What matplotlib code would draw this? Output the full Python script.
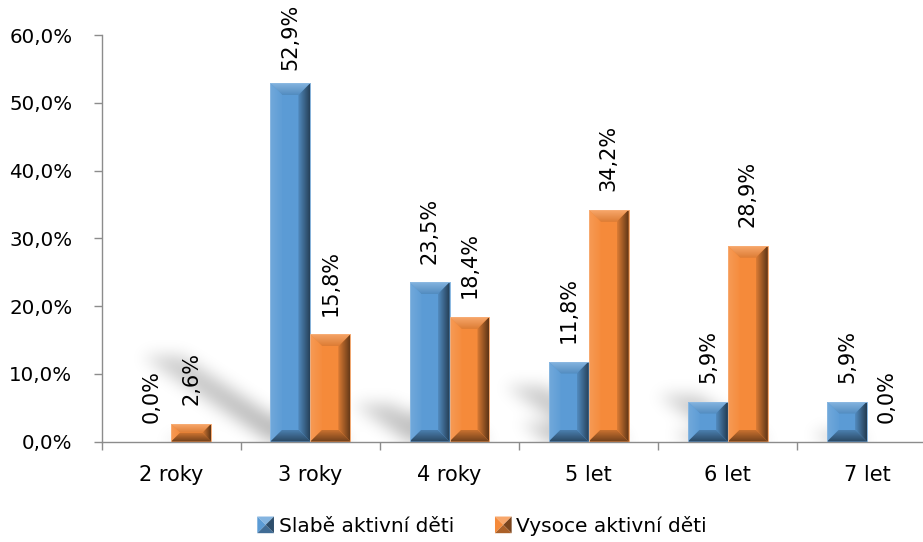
import numpy as np
import matplotlib
matplotlib.use("Agg")
import matplotlib.pyplot as plt
from matplotlib.patches import Polygon, Rectangle
from matplotlib.colors import LinearSegmentedColormap, to_rgb

plt.rcParams["font.family"] = ["DejaVu Sans"]

categories = ["2 roky", "3 roky", "4 roky", "5 let", "6 let", "7 let"]
slabe = [0.0, 52.9, 23.5, 11.8, 5.9, 5.9]
vysoce = [2.6, 15.8, 18.4, 34.2, 28.9, 0.0]
series_names = ["Slabě aktivní děti", "Vysoce aktivní děti"]
y_ticks = [0, 10, 20, 30, 40, 50, 60]

BLUE = "#5B9BD5"
ORANGE = "#F58A3A"
AXIS_GREY = "#8C8C8C"
BAR_W = 0.287

DPI = 100
fig = plt.figure(figsize=(9.23, 5.42), dpi=DPI)
ax = fig.add_axes([101.6 / 923, 1 - 441.5 / 542, 835 / 923, 406.5 / 542])
XLIM = (-0.5, len(categories) - 0.5)
YLIM = (0, 60)

# pixels per data unit, used to keep bevels a constant size on screen
px_x = 835 / (XLIM[1] - XLIM[0])
px_y = 406.5 / (YLIM[1] - YLIM[0])


def shade(color, amount):
    """amount > 0 mixes with white, amount < 0 with black."""
    c = np.array(to_rgb(color))
    if amount >= 0:
        return tuple(c + (1 - c) * amount)
    return tuple(c * (1 + amount))


def gradient_fill(ax, pts, c_from, c_to, direction, zorder):
    poly = Polygon(pts, closed=True, facecolor="none", edgecolor="none")
    ax.add_patch(poly)
    xs = [p[0] for p in pts]
    ys = [p[1] for p in pts]
    cmap = LinearSegmentedColormap.from_list("g", [c_from, c_to])
    if direction == "x":
        grad = np.linspace(0, 1, 64).reshape(1, -1)
    else:
        grad = np.linspace(0, 1, 64).reshape(-1, 1)
    im = ax.imshow(grad, cmap=cmap, extent=(min(xs), max(xs), min(ys), max(ys)),
                   origin="lower", aspect="auto", zorder=zorder, interpolation="bilinear")
    im.set_clip_path(poly)


def bevel_bar(ax, left, value, color):
    right = left + BAR_W
    if value <= 0:
        return
    b = min(12.0, 0.5 * value * px_y, 0.5 * BAR_W * px_x)
    bx, by = b / px_x, b / px_y
    ax.bar(left, value, width=BAR_W, align="edge", color=color,
           edgecolor=shade(color, 0.35), linewidth=0.6, zorder=2)
    z = 2.1
    top = [(left, value), (right, value), (right - bx, value - by), (left + bx, value - by)]
    bottom = [(left, 0), (right, 0), (right - bx, by), (left + bx, by)]
    lside = [(left, 0), (left, value), (left + bx, value - by), (left + bx, by)]
    rside = [(right, 0), (right, value), (right - bx, value - by), (right - bx, by)]
    # top chamfer: darker where it meets the face, bright at the edge
    gradient_fill(ax, top, shade(color, -0.1), shade(color, 0.25), "y", z)
    gradient_fill(ax, lside, shade(color, 0.14), shade(color, 0.02), "x", z)
    gradient_fill(ax, bottom, shade(color, -0.55), shade(color, -0.18), "y", z)
    gradient_fill(ax, rside, shade(color, -0.1), shade(color, -0.62), "x", z)
    ax.add_patch(Rectangle((left, 0), BAR_W, value, facecolor="none",
                           edgecolor=shade(color, 0.3), linewidth=0.6, zorder=2.2))


def gauss_blur(img, sigma):
    r = int(3 * sigma)
    k = np.exp(-0.5 * (np.arange(-r, r + 1) / sigma) ** 2)
    k /= k.sum()
    img = np.apply_along_axis(lambda m: np.convolve(m, k, mode="same"), 0, img)
    img = np.apply_along_axis(lambda m: np.convolve(m, k, mode="same"), 1, img)
    return img


# soft perspective shadows cast up and to the left of every bar
W, H = 835, 407
yy, xx = np.mgrid[0:H, 0:W] + 0.5
mask = np.zeros((H, W))
for offset, values in ((-BAR_W, slabe), (0.0, vysoce)):
    for i, v in enumerate(values):
        if v <= 0:
            continue
        x0 = (i + offset - XLIM[0]) * px_x
        x1 = x0 + BAR_W * px_x
        reach = 0.24 * v * px_y
        shift = yy * 1.5
        inside = (yy <= reach) & (xx >= x0 - shift) & (xx <= x1 - shift)
        fade = np.clip(1.0 - 0.35 * yy / max(reach, 1), 0, 1)
        mask = np.maximum(mask, inside * fade)
mask = gauss_blur(mask, 8)
shadow = np.zeros((H, W, 4))
shadow[..., 3] = 0.30 * mask
ax.imshow(shadow, extent=(XLIM[0], XLIM[1], 0, H / px_y), origin="lower",
          aspect="auto", zorder=0.5, interpolation="bilinear")

x = np.arange(len(categories))
for i in x:
    bevel_bar(ax, i - BAR_W, slabe[i], BLUE)
    bevel_bar(ax, i, vysoce[i], ORANGE)

labels = []
for offset, values in ((-BAR_W / 2, slabe), (BAR_W / 2, vysoce)):
    for i, v in enumerate(values):
        t = ax.annotate(f"{v:.1f}%".replace(".", ","), xy=(i + offset, v),
                        xytext=(0, 13.5), textcoords="offset points",
                        rotation=90, ha="center", va="bottom", fontsize=15,
                        color="#000000", zorder=5, annotation_clip=False)
        labels.append(t)

ax.set_xlim(*XLIM)
ax.set_ylim(*YLIM)
ax.set_yticks(y_ticks)
ax.set_yticklabels([f"{v:.1f}%".replace(".", ",") for v in y_ticks], fontsize=14.3)
ax.set_xticks(x)
ax.set_xticklabels(categories, fontsize=15)
ax.set_xticks(np.arange(len(categories) + 1) - 0.5, minor=True)
ax.tick_params(axis="x", which="major", length=0, pad=17)
ax.tick_params(axis="x", which="minor", length=6, color=AXIS_GREY, width=1)
ax.tick_params(axis="y", length=6, color=AXIS_GREY, width=1, pad=15)
for side in ("top", "right"):
    ax.spines[side].set_visible(False)
for side in ("left", "bottom"):
    ax.spines[side].set_color(AXIS_GREY)
    ax.spines[side].set_linewidth(1)
    ax.spines[side].set_zorder(3)


class BevelSquare:
    def __init__(self, color):
        self.color = color


class BevelHandler:
    def legend_artist(self, legend, orig_handle, fontsize, handlebox):
        c = orig_handle.color
        s = 12.0
        x0 = handlebox.xdescent + (handlebox.width - s) / 2
        y0 = handlebox.ydescent - 1
        cx, cy = x0 + s / 2, y0 + s / 2
        tr = handlebox.get_transform()
        faces = [
            ([(x0, y0 + s), (x0 + s, y0 + s), (cx, cy)], shade(c, 0.25)),
            ([(x0, y0), (x0, y0 + s), (cx, cy)], shade(c, 0.0)),
            ([(x0 + s, y0), (x0 + s, y0 + s), (cx, cy)], shade(c, -0.5)),
            ([(x0, y0), (x0 + s, y0), (cx, cy)], shade(c, -0.3)),
        ]
        for pts, fc in faces:
            p = Polygon(pts, closed=True, facecolor=fc, edgecolor="none", transform=tr)
            handlebox.add_artist(p)
        return p


handles = [BevelSquare(BLUE), BevelSquare(ORANGE)]
fig.legend(handles, series_names, handler_map={BevelSquare: BevelHandler()},
           loc="lower center", bbox_to_anchor=(0.522, -0.022), ncol=2, frameon=False,
           fontsize=14.5, handlelength=0.9, handletextpad=0.2, columnspacing=2.0)

# keep rotated value labels inside the top edge of the figure
fig.canvas.draw()
fig_h = fig.bbox.height
for t in labels:
    bb = t.get_window_extent()
    if bb.y1 > fig_h - 4:
        dy = bb.y1 - (fig_h - 4)
        ox, oy = t.xyann
        t.xyann = (ox, oy - dy * 72 / DPI)

fig.savefig("out.png", dpi=DPI)
